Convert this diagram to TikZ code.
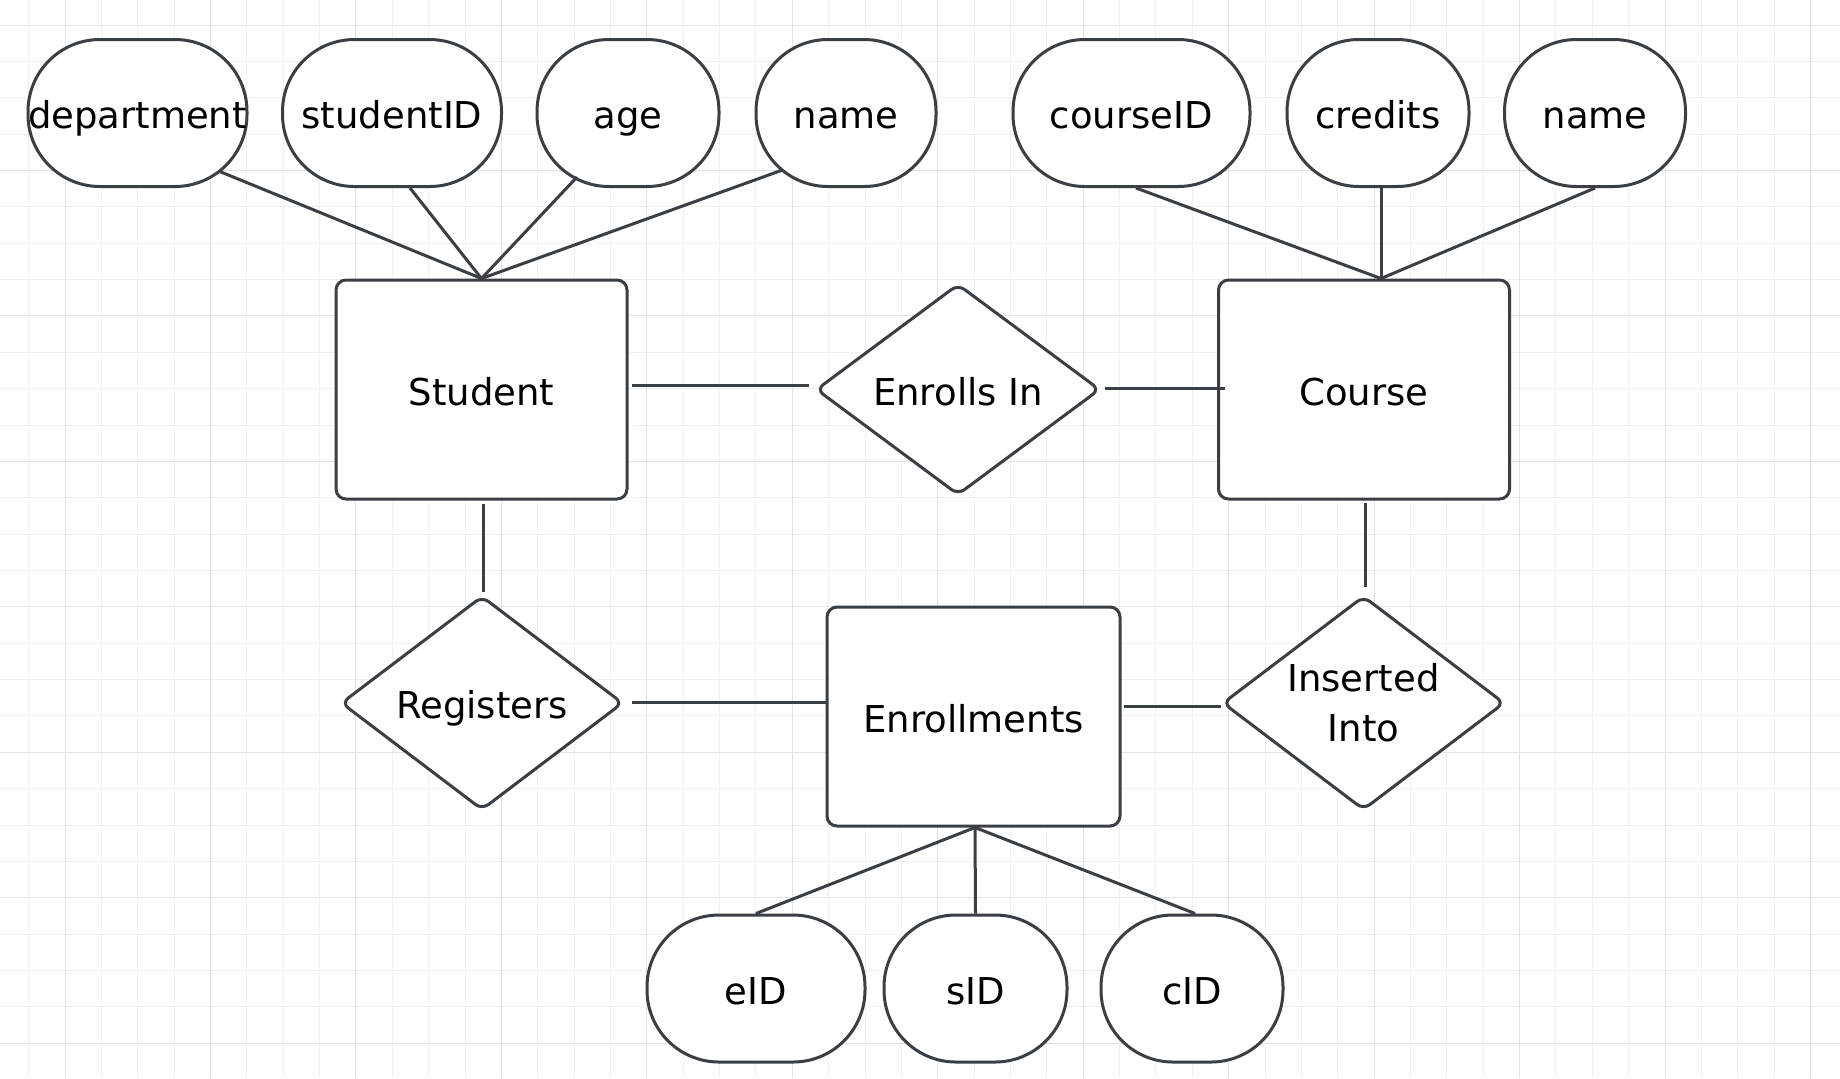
\documentclass[tikz,border=0pt]{standalone}
\usepackage{fontspec}
\setmainfont{DejaVu Sans}
\usetikzlibrary{shapes.geometric,calc}
\definecolor{ink}{HTML}{3A3E45}
\definecolor{gridminor}{HTML}{F0F0F0}
\definecolor{gridmajor}{HTML}{E2E2E2}
\begin{document}
\begin{tikzpicture}[x=0.5pt,y=-0.5pt,
  lbl/.style={font=\fontsize{18.5}{25}\selectfont, text=black},
  oneline/.style={text height=15.5pt, text depth=0pt},
  entity/.style={lbl, oneline, draw=ink, line width=1.5pt, fill=white, rectangle, rounded corners=5pt, minimum width=145.5pt, minimum height=109.5pt, inner sep=0pt},
  attr/.style={lbl, oneline, draw=ink, line width=1.5pt, fill=white, rectangle, rounded corners=36pt, minimum height=73.5pt, inner sep=0pt},
  rel/.style={lbl, draw=ink, line width=1.5pt, fill=white, diamond, aspect=1.32, rounded corners=4pt, inner sep=0pt, minimum width=141pt, minimum height=106pt, align=center},
  conn/.style={draw=ink, line width=1.5pt},
]
\useasboundingbox (0,0) rectangle (1840,1078);
\fill[white] (0,0) rectangle (1840,1078);
% grid
\foreach \i in {-1,...,48} \draw[gridminor, line width=0.5pt] ({65+36.3636*\i},0) -- ++(0,1078);
\foreach \j in {0,...,28} \draw[gridminor, line width=0.5pt] (0,{25+36.3636*\j}) -- ++(1840,0);
\foreach \i in {0,...,12} \draw[gridmajor, line width=0.5pt] ({65+145.4545*\i},0) -- ++(0,1078);
\foreach \j in {0,...,7} \draw[gridmajor, line width=0.5pt] (0,{25+145.4545*\j}) -- ++(1840,0);

% attributes of Student
\node[attr, minimum width=109.5pt] (dept) at (137.5,113) {department};
\node[attr, minimum width=109.5pt] (sida) at (392,113) {studentID};
\node[attr, minimum width=91pt] (age) at (628,113) {age};
\node[attr, minimum width=90pt] (snm) at (846,113) {name};
% attributes of Course
\node[attr, minimum width=118.5pt] (cida) at (1131.5,113) {courseID};
\node[attr, minimum width=91pt] (cred) at (1378,113) {credits};
\node[attr, minimum width=90.5pt] (cnm) at (1595,113) {name};

% entities and relationships
\node[entity] (stu) at (481.5,389.5) {Student};
\node[entity] (course) at (1364,389.5) {Course};
\node[rel, oneline, minimum width=142pt, minimum height=105.5pt] (enr) at (958,389.5) {Enrolls In};
\node[rel, oneline, minimum height=107pt] (reg) at (482,703) {Registers};
\node[entity, minimum width=146.5pt] (enrl) at (973.5,716.5) {Enrollments};
\node[rel, minimum height=107pt] (ins) at (1363.5,703) {Inserted\\Into};

% attributes of Enrollments
\node[attr, minimum width=109pt] (eid) at (756,988.5) {eID};
\node[attr, minimum width=91.5pt] (sidn) at (975.5,988.5) {sID};
\node[attr, minimum width=91pt] (cidn) at (1192,988.5) {cID};

\coordinate (stop) at (stu.north);
\coordinate (ctop) at ($(course.north)+(17,0)$);

% connectors
\draw[conn] ($(dept.center)+(81,58)$) -- (stop);
\draw[conn] ($(sida.south)+(18,0)$) -- (stop);
\draw[conn] ($(age.center)+(-51,64)$) -- (stop);
\draw[conn] ($(snm.center)+(-63.5,57)$) -- (stop);

\draw[conn] ($(cida.south)+(4.5,0)$) -- (ctop);
\draw[conn] ($(cred.south)+(3,0)$) -- (ctop);
\draw[conn] (cnm.south) -- (ctop);

\draw[conn] ($(stu.east)+(3,-4.5)$) -- ($(enr.west)+(-6,-4.5)$);
\draw[conn] ($(enr.east)+(3,-1.5)$) -- ($(course.west)+(8,-1.5)$);
\draw[conn] ($(stu.south)+(1.5,3)$) -- ($(reg.north)+(1,-3)$);
\draw[conn] ($(reg.east)+(7,-1)$) -- ($(enrl.west)+(0,-14.5)$);
\draw[conn] ($(enrl.east)+(2,-10.5)$) -- ($(ins.west)+(0,3)$);
\draw[conn] ($(course.south)+(1,2)$) -- ($(ins.north)+(1.5,-8)$);

\draw[conn] ($(enrl.south)+(1.5,0)$) -- (eid.north);
\draw[conn] ($(enrl.south)+(1.5,0)$) -- (sidn.north);
\draw[conn] ($(enrl.south)+(1.5,0)$) -- ($(cidn.north)+(3,0)$);
\end{tikzpicture}
\end{document}
